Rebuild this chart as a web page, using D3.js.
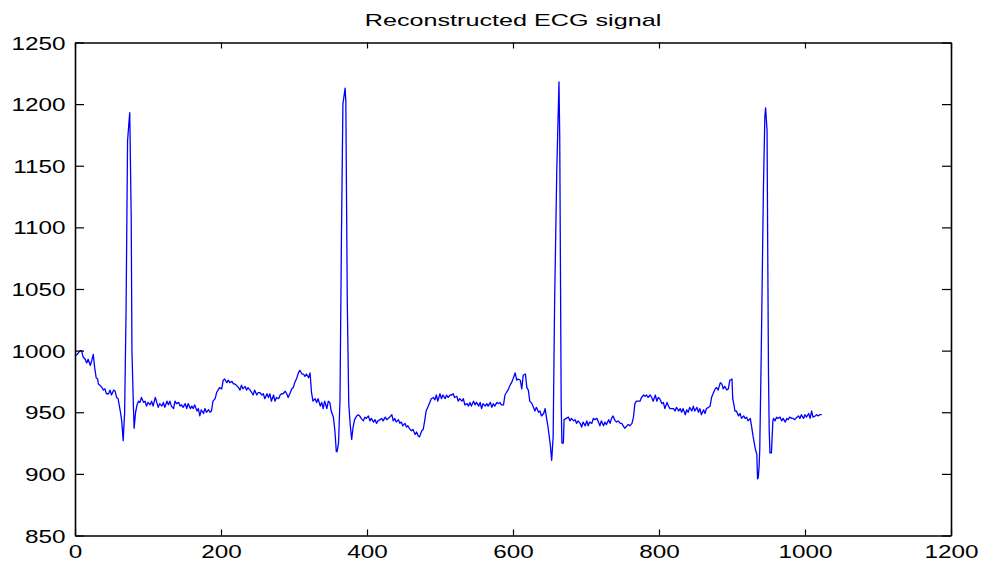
<!DOCTYPE html>
<html lang="en">
<head>
    <meta charset="UTF-8">
    <title>Reconstructed ECG signal</title>
    <style>
        body { margin: 0; background: #fff; }
        #grafico { display: block; }
        text { font-family: "Liberation Sans", Arial, sans-serif; fill: #000; }
        .titulo { font-size: 17px; text-anchor: middle; }
        .eixo text { font-size: 18px; }
        .eixo path, .eixo line { stroke: #000; }
        .sinal { fill: none; stroke: #0000ff; stroke-width: 1.3; stroke-linejoin: round; }
    </style>
    <script src="https://d3js.org/d3.v7.min.js"></script>
    <script>
        // sample number of each read point
        const sampleIndex = [
            0, 3, 7, 9, 11, 14, 16, 18, 21, 23, 25, 27, 29, 31, 32, 34, 37, 39, 41, 43, 46, 48, 50, 53, 55, 57, 59, 62, 64, 66,
            68, 70, 72, 74, 75, 77, 78, 80, 81, 83, 85, 87, 89, 91, 94, 96, 98, 100, 103, 105, 107, 110, 112, 114, 116, 119, 121, 123, 126, 128,
            130, 132, 135, 137, 139, 142, 144, 146, 148, 151, 153, 155, 158, 160, 162, 164, 167, 169, 171, 173, 176, 178, 180, 183, 185, 187, 189, 192, 194, 196,
            198, 201, 203, 205, 208, 210, 212, 215, 217, 219, 221, 224, 226, 228, 230, 233, 235, 237, 240, 242, 244, 246, 249, 251,
            253, 256, 258, 260, 263, 265, 267, 269, 272, 274, 276, 279, 281, 283, 285, 288, 290, 292, 295, 297, 299, 301, 304, 306, 308, 311, 313, 315, 317, 320,
            322, 324, 326, 329, 331, 333, 336, 338, 340, 342, 345, 347, 349, 351, 354, 356, 358, 359, 361, 363, 365, 367, 370, 371, 372, 373, 374, 375, 377, 379,
            381, 383, 386, 388, 390, 392, 395, 397, 399, 402, 404, 406, 409, 411, 413, 415, 418, 420, 422, 425, 427, 429, 431, 434, 436, 438, 440, 443, 445, 447,
            449, 452, 454, 456, 459, 461, 463, 466, 468, 470, 472, 475, 477, 479, 481, 484, 486, 488, 491, 493, 495, 497, 500, 502, 504, 507, 509, 511, 514, 516,
            518, 520, 523, 525,
            527, 530, 532, 534, 537, 539, 541, 543, 546, 548, 550, 553, 555, 557, 559, 562, 564, 566, 569, 571, 573, 575, 578, 580, 582, 584, 587, 589, 591, 594,
            596, 598, 600, 603, 605, 607, 610, 612, 614, 617, 619, 621, 623, 626, 628, 630, 632, 635, 637, 639, 642, 644, 646, 648, 651, 653, 655, 657, 660, 663,
            664, 665, 666, 667, 669, 670, 673, 676, 678, 680, 683, 685, 687, 689, 692, 694, 696, 699, 701, 703, 705, 708, 710, 712, 715, 717, 719, 721, 724, 726,
            728, 731, 733, 735, 737, 740, 742, 744, 747, 749, 751, 753, 756, 758, 760, 763, 765, 767, 769, 772,
            774, 776, 779, 781, 783, 785, 788, 790, 792, 795, 797, 799, 801, 804, 806, 808, 811, 813, 815, 817, 820, 822, 824, 827, 829, 831, 833, 836, 838, 840,
            842, 845, 847, 849, 852, 854, 856, 858, 861, 863, 865, 868, 870, 872, 874, 877, 879, 881, 884, 886, 888, 890, 893, 895, 897, 900, 901, 903, 904, 906,
            909, 911, 913, 916, 918, 920, 922, 925, 927, 929, 932, 934, 935, 936, 937, 938, 940, 943, 945, 946, 948, 949, 950, 951, 952, 954, 956, 957, 959, 961,
            963, 966, 968, 970, 973, 975, 977, 979, 982, 984, 986, 989, 991, 993, 995, 998, 1000, 1002, 1005, 1007, 1009, 1011, 1014, 1016, 1018, 1020, 1023
        ];
        // amplitude read at each of those samples
        const ecgValue = [
            996, 997, 1000, 1000, 995, 993, 990, 993, 988, 992, 997, 986, 978, 977, 973, 972, 970, 968, 969, 965, 965, 968, 964, 968, 967, 962, 961, 951, 943, 927,
            950, 1035, 1170, 1186, 1193, 1108, 1000, 955, 937, 950, 956, 959, 958, 962, 958, 959, 955, 958, 956, 959, 955, 962, 958, 954, 957, 955, 958, 954, 959, 956,
            959, 955, 953, 959, 957, 958, 955, 956, 954, 957, 953, 957, 953, 955, 953, 956, 951, 953, 947, 952, 949, 953, 950, 952, 950, 951, 959, 961, 966, 968,
            970, 969, 976, 977, 974, 976, 974, 975, 973, 973, 972, 970, 968, 972, 969, 971, 968, 970, 968, 966, 964, 968, 964, 966,
            966, 964, 965, 961, 965, 962, 965, 959, 964, 959, 962, 961, 964, 965, 965, 967, 965, 962, 966, 969, 970, 974, 978, 982, 984, 981, 981, 979, 981, 978,
            982, 966, 959, 961, 958, 961, 955, 958, 953, 959, 953, 959, 958, 951, 946, 935, 918, 918, 925, 960, 1092, 1200, 1213, 1202, 1120, 1040, 998, 957, 940, 928,
            938, 944, 947, 948, 947, 945, 943, 946, 945, 947, 943, 945, 942, 944, 941, 943, 944, 945, 943, 946, 944, 945, 946, 948, 943, 945, 942, 944, 941, 942,
            939, 941, 938, 939, 936, 935, 936, 932, 934, 931, 930, 935, 936, 943, 951, 955, 958, 961, 962, 960, 964, 959, 965, 961, 964, 961, 964, 962, 964, 964,
            965, 962, 963, 959,
            961, 959, 961, 956, 957, 955, 958, 955, 959, 956, 958, 955, 958, 953, 957, 955, 957, 955, 958, 954, 957, 955, 958, 957, 958, 956, 956, 964, 966, 969,
            972, 974, 977, 982, 976, 977, 976, 969, 980, 981, 970, 968, 959, 957, 954, 951, 954, 950, 951, 947, 949, 953, 945, 938, 924, 911, 930, 1039, 1147, 1218,
            1174, 1066, 958, 925, 925, 944, 945, 946, 943, 945, 943, 944, 941, 943, 941, 938, 942, 939, 943, 939, 942, 941, 945, 944, 945, 942, 939, 943, 939, 942,
            940, 944, 941, 945, 947, 943, 942, 943, 941, 941, 939, 937, 939, 940, 939, 941, 946, 957, 959, 959,
            959, 962, 964, 963, 964, 962, 964, 962, 959, 964, 959, 962, 961, 957, 958, 953, 958, 955, 953, 953, 953, 951, 954, 951, 953, 950, 953, 948, 952, 950,
            954, 951, 955, 951, 954, 950, 953, 948, 952, 949, 953, 954, 955, 962, 965, 969, 970, 968, 974, 973, 969, 971, 968, 969, 976, 977, 961, 955, 951, 951,
            947, 949, 945, 947, 945, 946, 943, 945, 938, 930, 920, 916, 896, 897, 905, 919, 995, 1130, 1190, 1197, 1179, 1076, 980, 935, 917, 917, 943, 945, 943, 946,
            945, 946, 943, 945, 942, 945, 944, 946, 945, 945, 944, 946, 947, 945, 948, 945, 948, 946, 949, 945, 951, 946, 947, 948, 947, 948, 948
        ];
        const xTicks = [0, 200, 400, 600, 800, 1000, 1200];
        const yTicks = [850, 900, 950, 1000, 1050, 1100, 1150, 1200, 1250];
        const titulo = 'Reconstructed ECG signal';

        onload = () => {
            let svg = d3.select('#grafico');
            let esq = 75, dir = 951, topo = 42.5, base = 535.5;
            // the reference is stretched sideways, so the text is too
            let esticaTexto = 1.35;
            let semVirgula = d3.format('d');

            let fnX = d3.scaleLinear().domain([0, 1200]).range([esq, dir]);
            let fnY = d3.scaleLinear().domain([850, 1250]).range([base, topo]);

            let pontos = sampleIndex.map((s, i) => [s, ecgValue[i]]);
            let linha = d3.line().x(d => fnX(d[0])).y(d => fnY(d[1]));

            svg.append('path')
                .datum(pontos)
                .classed('sinal', true)
                .attr('d', linha);

            // box: bottom / top with short ticks, left / right with longer ones
            let gBaixo = svg.append('g').classed('eixo', true)
                .attr('transform', `translate(0,${base})`)
                .call(d3.axisBottom(fnX).tickValues(xTicks).tickFormat(semVirgula).tickSizeInner(-6).tickSizeOuter(0));
            gBaixo.selectAll('text')
                .attr('y', 22.5)
                .attr('dy', null)
                .attr('transform', `scale(${esticaTexto},1)`);

            svg.append('g').classed('eixo', true)
                .attr('transform', `translate(0,${topo})`)
                .call(d3.axisTop(fnX).tickValues(xTicks).tickSizeInner(-6).tickSizeOuter(0).tickFormat(''));

            let gEsq = svg.append('g').classed('eixo', true)
                .attr('transform', `translate(${esq},0)`)
                .call(d3.axisLeft(fnY).tickValues(yTicks).tickFormat(semVirgula).tickSizeInner(-9).tickSizeOuter(0));
            gEsq.selectAll('text')
                .attr('x', -9.5 / esticaTexto)
                .attr('dy', null)
                .attr('y', 6.5)
                .attr('transform', `scale(${esticaTexto},1)`);

            svg.append('g').classed('eixo', true)
                .attr('transform', `translate(${dir},0)`)
                .call(d3.axisRight(fnY).tickValues(yTicks).tickSizeInner(-9).tickSizeOuter(0).tickFormat(''));

            svg.selectAll('.eixo text').style('font-size', '18px').attr('fill', '#000');
            svg.selectAll('.eixo .domain').attr('stroke-width', 1.6);
            svg.selectAll('.eixo .tick line').attr('stroke-width', 1.2);

            svg.append('g')
                .attr('transform', `translate(${(esq + dir) / 2},25.7) scale(1.48,1)`)
                .append('text')
                .classed('titulo', true)
                .text(titulo);
        };
    </script>
</head>
<body>
    <svg id="grafico" width="984" height="566"></svg>
</body>
</html>
